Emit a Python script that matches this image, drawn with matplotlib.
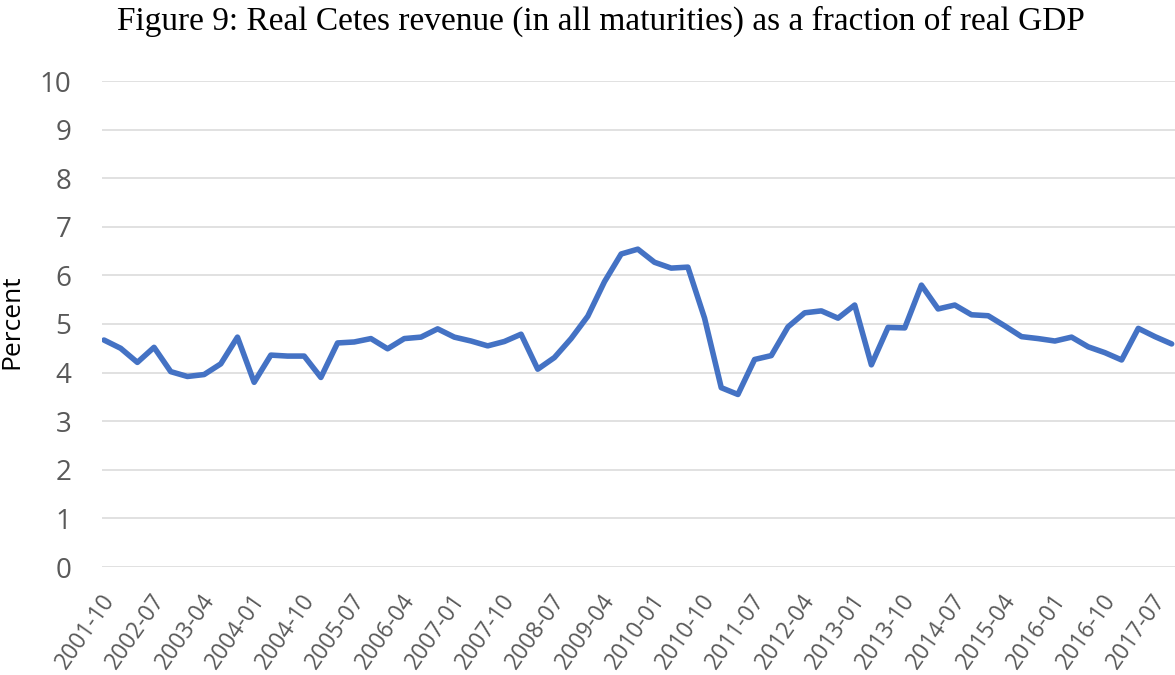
import numpy as np
import pandas as pd
import matplotlib
matplotlib.use('Agg')
import matplotlib.pyplot as plt
import matplotlib.transforms as mtransforms

# quarterly categories, 2001-10 .. 2017-10
quarters = pd.date_range('2001-10-01', '2017-10-01', freq='QS-OCT').strftime('%Y-%m').tolist()

# real Cetes revenue / real GDP (percent)
revenue = [4.67, 4.50, 4.21, 4.52, 4.02, 3.92, 3.96, 4.18, 4.73, 3.80,
           4.36, 4.34, 4.34, 3.90, 4.61, 4.63, 4.70, 4.49, 4.70, 4.73,
           4.90, 4.73, 4.65, 4.55, 4.64, 4.79, 4.07, 4.31, 4.70, 5.16,
           5.87, 6.44, 6.54, 6.27, 6.15, 6.17, 5.12, 3.69, 3.55, 4.27,
           4.35, 4.94, 5.23, 5.27, 5.12, 5.39, 4.16, 4.93, 4.92, 5.80,
           5.31, 5.39, 5.19, 5.17, 4.96, 4.74, 4.70, 4.65, 4.73, 4.53,
           4.41, 4.26, 4.91, 4.74, 4.59]

yticks = list(range(0, 11))
label_step = 3

W, H = 1175, 675
fig = plt.figure(figsize=(W / 100, H / 100), dpi=100)
ax = fig.add_axes([102 / W, 108 / H, (W - 102) / W, (567 - 81) / H])

x = np.arange(len(quarters))
ax.plot(x, revenue, color='#4472C4', lw=4.0, solid_joinstyle='round', solid_capstyle='round', zorder=3)

ax.set_xlim(-0.12, len(quarters) - 1 + 0.2)
ax.set_ylim(0, 10)
ax.set_yticks(yticks)
ax.grid(axis='y', color='#d9d9d9', lw=1.1)
ax.set_axisbelow(True)
for s in ax.spines.values():
    s.set_visible(False)

ax.tick_params(axis='both', length=0)
ax.tick_params(axis='y', pad=22, labelsize=20, labelcolor='#595959')
ax.tick_params(axis='x', pad=16, labelsize=16.5, labelcolor='#595959')
for lab in ax.get_yticklabels():
    lab.set_family('Open Sans')

ax.set_xticks(x[::label_step])
ax.set_xticklabels(quarters[::label_step], rotation=55, ha='right', va='top',
                   rotation_mode='anchor', family='Open Sans')
off = mtransforms.ScaledTranslation(-4 / 100, 0, fig.dpi_scale_trans)
for lab in ax.get_xticklabels():
    lab.set_transform(lab.get_transform() + off)

fig.text(12 / W, 1 - 322 / H, 'Percent', rotation=90, ha='center', va='center',
         fontsize=19, family='Open Sans', color='black')

fig.text(601 / W, 1 - 30 / H, 'Figure 9: Real Cetes revenue (in all maturities) as a fraction of real GDP',
         ha='center', va='baseline', fontsize=24, family='Liberation Serif', color='black')

fig.savefig('out.png', dpi=100)
